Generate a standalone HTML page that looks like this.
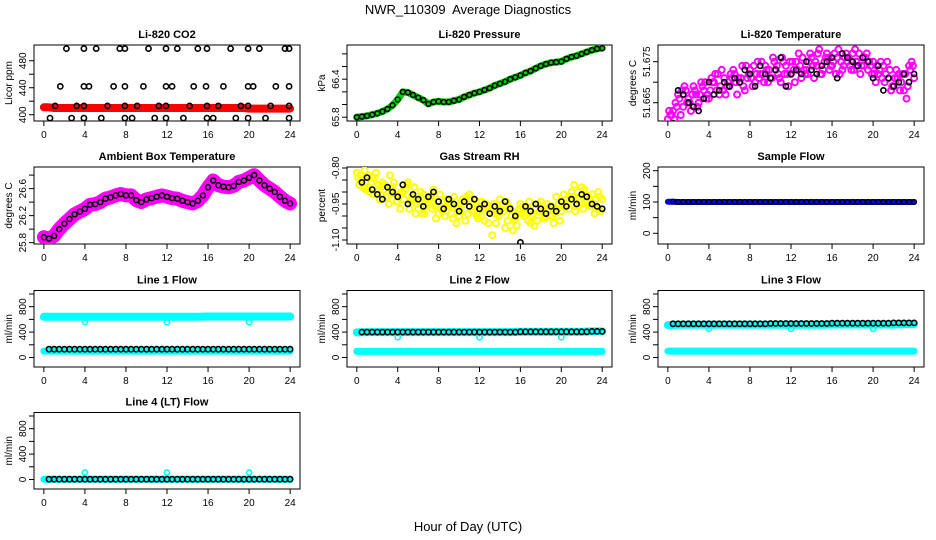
<!DOCTYPE html>
<html><head><meta charset="utf-8">
<style>
html,body{margin:0;padding:0;background:#fff;}
svg{display:block;font-family:"Liberation Sans",sans-serif;}
</style></head>
<body>
<svg id="chart" width="936" height="540" viewBox="0 0 936 540" xmlns="http://www.w3.org/2000/svg">
<rect x="0" y="0" width="936" height="540" fill="#fff"/>
<text x="468" y="14" text-anchor="middle" font-size="13" style="white-space:pre">NWR_110309  Average Diagnostics</text>
<text x="468" y="531" text-anchor="middle" font-size="13">Hour of Day (UTC)</text>
</svg>
<script>
// ---------- data ----------
const hours49 = [0,0.5,1,1.5,2,2.5,3,3.5,4,4.5,5,5.5,6,6.5,7,7.5,8,8.5,9,9.5,10,10.5,11,11.5,12,12.5,13,13.5,14,14.5,15,15.5,16,16.5,17,17.5,18,18.5,19,19.5,20,20.5,21,21.5,22,22.5,23,23.5,24];
const hoursB = [0.25,0.75,1.25,1.75,2.25,2.75,3.25,3.75,4.25,4.75,5.25,5.75,6.25,6.75,7.25,7.75,8.25,8.75,9.25,9.75,10.25,10.75,11.25,11.75,12.25,12.75,13.25,13.75,14.25,14.75,15.25,15.75,16.25,16.75,17.25,17.75,18.25,18.75,19.25,19.75,20.25,20.75,21.25,21.75,22.25,22.75,23.25,23.75];
const hoursC = [0.125,0.625,1.125,1.625,2.125,2.625,3.125,3.625,4.125,4.625,5.125,5.625,6.125,6.625,7.125,7.625,8.125,8.625,9.125,9.625,10.125,10.625,11.125,11.625,12.125,12.625,13.125,13.625,14.125,14.625,15.125,15.625,16.125,16.625,17.125,17.625,18.125,18.625,19.125,19.625,20.125,20.625,21.125,21.625,22.125,22.625,23.125,23.625];
const hoursD = [0.375,0.875,1.375,1.875,2.375,2.875,3.375,3.875,4.375,4.875,5.375,5.875,6.375,6.875,7.375,7.875,8.375,8.875,9.375,9.875,10.375,10.875,11.375,11.875,12.375,12.875,13.375,13.875,14.375,14.875,15.375,15.875,16.375,16.875,17.375,17.875,18.375,18.875,19.375,19.875,20.375,20.875,21.375,21.875,22.375,22.875,23.375,23.875];
const hoursK = hours49.slice(1);

const co2Hours = [2.2,3.9,5.1,7.4,7.9,10.2,11.9,13.0,15.0,15.9,18.2,19.9,21.0,23.5,23.9, 1.6,3.9,4.4,6.8,7.9,9.7,11.9,12.5,14.6,15.8,17.5,19.9,20.4,22.6,23.9, 1.1,3.2,3.9,6.2,7.9,9.1,11.2,11.9,14.2,15.9,17.0,19.2,19.9,22.1,23.9, 0.6,2.7,3.9,5.6,7.9,8.6,10.8,11.9,13.6,15.9,16.5,18.7,19.9,21.6,23.9];
const co2Vals = [498,498,498,498,498,498,498,498,498,498,498,498,498,498,498, 442,442,442,442,442,442,442,442,442,442,442,442,442,442,442, 413,413,413,413,413,413,413,413,413,413,413,413,413,413,413, 395,395,395,395,395,395,395,395,395,395,395,395,395,395,395];
const co2Red = [411,411,410,410,410,410,410,410,410,410,410,410,410,410,410,410,410,410,410,410,410,410,410,410,410,410,410,410,410,410,410,410,410,410,410,410,410,410,410,410,409,409,409,409,409,409,409,409,409];

const pressure = [65.80,65.81,65.82,65.84,65.86,65.89,65.93,65.99,66.08,66.20,66.19,66.15,66.11,66.07,66.01,66.04,66.05,66.04,66.04,66.06,66.08,66.12,66.15,66.18,66.20,66.23,66.26,66.30,66.33,66.36,66.40,66.43,66.46,66.50,66.53,66.57,66.61,66.64,66.66,66.67,66.68,66.72,66.75,66.77,66.80,66.83,66.86,66.88,66.89];

const tempA = [51.661,51.663,51.667,51.664,51.666,51.669,51.665,51.668,51.666,51.670,51.667,51.671,51.669,51.672,51.670,51.668,51.673,51.670,51.672,51.674,51.671,51.673,51.670,51.674,51.672,51.675,51.671,51.673,51.676,51.674,51.672,51.677,51.674,51.676,51.673,51.675,51.677,51.674,51.676,51.673,51.675,51.672,51.674,51.671,51.669,51.672,51.668,51.674,51.671];
const tempB = [51.662,51.665,51.662,51.668,51.663,51.667,51.670,51.666,51.671,51.668,51.673,51.669,51.671,51.667,51.674,51.671,51.669,51.675,51.672,51.670,51.676,51.672,51.675,51.669,51.673,51.677,51.673,51.675,51.671,51.678,51.675,51.673,51.677,51.672,51.676,51.674,51.678,51.672,51.676,51.674,51.670,51.675,51.672,51.668,51.673,51.670,51.666,51.675];
const tempC = [51.663,51.661,51.666,51.669,51.665,51.668,51.667,51.670,51.668,51.672,51.669,51.667,51.672,51.670,51.671,51.674,51.671,51.672,51.675,51.673,51.671,51.674,51.676,51.672,51.675,51.673,51.676,51.672,51.674,51.677,51.673,51.676,51.675,51.678,51.674,51.676,51.673,51.677,51.674,51.675,51.672,51.673,51.670,51.673,51.671,51.668,51.672,51.673];
const tempD = [51.662,51.664,51.668,51.665,51.667,51.664,51.669,51.667,51.670,51.672,51.668,51.670,51.673,51.671,51.669,51.672,51.674,51.671,51.670,51.673,51.675,51.671,51.672,51.675,51.670,51.674,51.672,51.677,51.675,51.672,51.676,51.674,51.672,51.675,51.677,51.673,51.675,51.674,51.677,51.672,51.674,51.671,51.675,51.669,51.671,51.672,51.669,51.674];
const tempK = [51.660,51.668,51.667,51.665,51.664,51.663,51.666,51.670,51.667,51.668,51.670,51.669,51.671,51.670,51.673,51.672,51.669,51.674,51.672,51.671,51.673,51.676,51.669,51.672,51.673,51.672,51.675,51.673,51.672,51.674,51.675,51.676,51.671,51.677,51.676,51.675,51.674,51.676,51.675,51.671,51.674,51.668,51.671,51.669,51.670,51.672,51.670,51.672];

const ambient = [25.88,25.86,25.90,26.00,26.08,26.15,26.22,26.26,26.30,26.36,26.37,26.40,26.45,26.47,26.50,26.52,26.50,26.50,26.43,26.40,26.44,26.46,26.48,26.50,26.48,26.46,26.45,26.42,26.40,26.38,26.42,26.50,26.62,26.72,26.65,26.63,26.62,26.64,26.70,26.72,26.76,26.80,26.72,26.65,26.60,26.55,26.48,26.42,26.38];

const rhA = [-0.82,-0.85,-0.88,-0.84,-0.90,-0.86,-0.92,-0.88,-0.94,-0.90,-0.86,-0.93,-0.97,-0.91,-0.95,-0.89,-0.99,-0.94,-0.96,-0.92,-1.00,-0.95,-0.91,-0.98,-0.94,-1.02,-0.96,-0.99,-0.93,-1.05,-0.97,-1.01,-0.95,-0.99,-1.03,-0.97,-0.94,-1.00,-0.96,-0.92,-0.98,-0.93,-0.90,-0.96,-0.88,-0.94,-0.91,-0.97,-0.93];
const rhB = [-0.87,-0.81,-0.90,-0.84,-0.93,-0.87,-0.83,-0.91,-0.97,-0.89,-0.94,-0.99,-0.90,-0.96,-0.92,-1.01,-0.97,-0.93,-0.99,-1.03,-0.95,-0.92,-0.98,-1.00,-0.94,-0.97,-1.08,-0.99,-0.95,-1.02,-1.06,-0.98,-0.96,-1.02,-0.99,-0.95,-1.01,-0.97,-1.03,-0.95,-0.91,-0.97,-0.87,-0.93,-0.89,-0.95,-0.99,-0.92];
const rhC = [-0.84,-0.88,-0.83,-0.91,-0.87,-0.89,-0.95,-0.86,-0.91,-0.93,-0.97,-0.88,-0.94,-0.99,-0.93,-0.96,-0.91,-1.00,-0.96,-0.94,-0.98,-1.02,-0.93,-0.96,-1.00,-0.95,-0.98,-1.03,-0.97,-0.94,-1.00,-1.04,-0.99,-0.96,-1.00,-1.02,-0.98,-0.95,-1.00,-0.97,-0.94,-0.95,-0.92,-0.90,-0.97,-0.92,-0.95,-0.90];
const rhD = [-0.83,-0.89,-0.86,-0.82,-0.88,-0.92,-0.89,-0.94,-0.90,-0.87,-0.92,-0.95,-0.99,-0.93,-0.97,-0.94,-0.98,-0.95,-1.01,-0.97,-0.93,-0.99,-0.95,-1.01,-0.97,-1.03,-0.95,-1.00,-0.98,-0.96,-1.02,-0.97,-1.00,-0.94,-1.04,-0.98,-1.01,-0.96,-0.99,-1.02,-0.96,-0.92,-0.98,-0.94,-0.91,-0.96,-0.93,-0.98];
const rhK = [-0.86,-0.84,-0.89,-0.91,-0.93,-0.88,-0.90,-0.92,-0.87,-0.95,-0.91,-0.93,-0.96,-0.92,-0.90,-0.94,-0.97,-0.93,-0.95,-0.98,-0.94,-0.96,-0.93,-0.97,-0.95,-0.99,-0.96,-0.98,-0.94,-0.97,-1.00,-1.11,-0.96,-0.98,-0.95,-0.97,-0.99,-0.96,-0.98,-0.94,-0.96,-0.93,-0.95,-0.91,-0.92,-0.95,-0.96,-0.97];

const sampleFlow = [101,101,100,100,100,100,100,100,100,100,100,100,100,100,100,100,100,100,100,100,100,100,100,100,100,100,100,100,100,100,100,100,100,100,100,100,100,100,100,100,100,100,100,100,100,100,100,100,100];

const flowHours = [0,1,2,3,4,5,6,7,8,9,10,11,12,13,14,15,16,17,18,19,20,21,22,23,24];
const spikeHours = [4,12,20];
const line1Hi = [640,640,640,640,640,640,640,640,640,640,640,640,640,640,640,640,645,645,645,645,645,645,645,645,645];
const line1Lo = [100,100,100,100,100,100,100,100,100,100,100,100,100,100,100,100,100,100,100,100,100,100,100,100,100];
const line1K  = [130,130,130,130,130,130,130,130,130,130,130,130,130,130,130,130,130,130,130,130,130,130,130,130,130];
const line1Spike = [560,555,555];
const line2Hi = [395,400,400,400,400,400,400,400,400,400,400,400,400,400,400,400,405,405,405,405,405,405,405,410,410];
const line2Lo = [95,95,95,95,95,95,95,95,95,95,95,95,95,95,95,95,95,95,95,95,95,95,95,95,95];
const line2K  = [400,400,400,400,400,400,400,400,400,400,400,400,400,400,400,400,405,405,405,405,405,405,405,410,410];
const line2Spike = [320,320,320];
const line3Hi = [510,515,515,515,515,515,515,515,515,515,515,515,515,515,515,515,520,520,520,520,520,520,520,525,525];
const line3Lo = [100,100,100,100,100,100,100,100,100,100,100,100,100,100,100,100,100,100,100,100,100,100,100,100,100];
const line3K  = [530,530,530,530,530,530,530,530,530,530,535,535,535,535,535,535,540,540,540,540,540,540,545,545,545];
const line3Spike = [450,450,450];
const line4C  = [5,5,5,5,5,5,5,5,5,5,5,5,5,5,5,5,5,5,5,5,5,5,5,5,5];
const line4K  = [5,5,5,5,5,5,5,5,5,5,5,5,5,5,5,5,5,5,5,5,5,5,5,5,5];
const line4Spike = [110,110,110];

const xTickVals = [0,4,8,12,16,20,24];

// ---------- layout ----------
const svg = document.getElementById('chart');
const NS = 'http://www.w3.org/2000/svg';
const colX = [[34,300],[347,612],[658,924]];
const rowY = [[45,121],[167,244],[290.5,367],[412.5,489]];
function mk(tag, attrs, parent){const e=document.createElementNS(NS,tag);for(const k in attrs)e.setAttribute(k,attrs[k]);(parent||svg).appendChild(e);return e;}

function panel(name, col, row, title, ylab, ymin, ymax, ticks, labels){
  const [x0,x1]=colX[col],[y0,y1]=rowY[row];
  const g=mk('g',{});
  
  
  const xs=h=>x0+(x1-x0)*(h+0.96)/25.92;
  const ys=v=>y1-(y1-y0)*(v-ymin)/(ymax-ymin);
  const t=mk('text',{x:(x0+x1)/2,y:y0-7,'text-anchor':'middle','font-size':11,'font-weight':'bold'},g);
  t.textContent=title;
  
  
  const yl=mk('text',{x:0,y:0,'text-anchor':'middle','font-size':10,transform:`translate(${x0-22},${(y0+y1)/2}) rotate(-90)`},g);
  yl.textContent=ylab;
  
  
  const xa=mk('g',{},g);
  
  
  mk('line',{x1:xs(0),x2:xs(24),y1:y1,y2:y1,stroke:'#000'},xa);
  xTickVals.forEach(v=>{
    mk('line',{x1:xs(v),x2:xs(v),y1:y1,y2:y1+5,stroke:'#000'},xa);
    const tl=mk('text',{x:xs(v),y:y1+17,'text-anchor':'middle','font-size':10},xa);
    tl.textContent=v;
  });
  const ya=mk('g',{},g);
  
  
  mk('line',{x1:x0,x2:x0,y1:ys(ticks[0]),y2:ys(ticks[ticks.length-1]),stroke:'#000'},ya);
  ticks.forEach(v=>mk('line',{x1:x0-5,x2:x0,y1:ys(v),y2:ys(v),stroke:'#000'},ya));
  labels.forEach(l=>{
    const tl=mk('text',{x:0,y:0,'text-anchor':'middle','font-size':10,transform:`translate(${x0-8},${ys(l[0])}) rotate(-90)`},ya);
    tl.textContent=l[1];
  });
  mk('rect',{x:x0,y:y0,width:x1-x0,height:y1-y0,fill:'none',stroke:'#000'},g);
  const clip='clip-'+name;
  const cp=mk('clipPath',{id:clip},g);mk('rect',{x:x0,y:y0,width:x1-x0,height:y1-y0},cp);
  const plot=mk('g',{'clip-path':`url(#${clip})`},g);
  return {xs,ys,plot,name};
}
function band(p,hs,vs,color,w,nm){
  const pts=hs.map((h,i)=>p.xs(h).toFixed(1)+','+p.ys(vs[i]).toFixed(1)).join(' ');
  const pl=mk('polyline',{points:pts,fill:'none',stroke:color,'stroke-width':w,'stroke-linecap':'round','stroke-linejoin':'round'},p.plot);
  
  
}
function dots(p,hs,vs,color,nm,r,sw){
  const g=mk('g',{},p.plot);
  
  
  hs.forEach((h,i)=>{
    const c=mk('circle',{cx:p.xs(h).toFixed(1),cy:p.ys(vs[i]).toFixed(1),r:r||2.6,fill:'none',stroke:color,'stroke-width':sw||1.6},g);
    
    
  });
}
function rng(a,b,s){const o=[];for(let v=a;v<=b+1e-9;v+=s)o.push(+v.toFixed(4));return o;}
const flowTicks=rng(0,1000,200), flowLabels=[[0,'0'],[400,'400'],[800,'800']];

// CO2
let p=panel('co2',0,0,'Li-820 CO2','Licor ppm',390.7,503.3,rng(400,480,20),[[400,'400'],[440,'440'],[480,'480']]);
band(p,hours49,co2Red,'#ff0000',8,'red-series');
dots(p,co2Hours,co2Vals,'#000','black-series');
// Pressure
p=panel('pressure',1,0,'Li-820 Pressure','kPa',65.74,66.94,rng(65.8,66.8,0.2),[[65.8,'65.8'],[66.4,'66.4']]);
band(p,hours49,pressure,'#00cc00',7,'green-series');
dots(p,hours49,pressure,'#000','black-series',2.4,1.5);
// Temperature
p=panel('temperature',2,0,'Li-820 Temperature','degrees C',51.66054,51.67907,[51.665,51.67,51.675],[[51.665,'51.665'],[51.675,'51.675']]);
dots(p,hours49,tempA,'#ff00ff','magenta-series-a',3,2);
dots(p,hoursB,tempB,'#ff00ff','magenta-series-b',3,2);
dots(p,hoursC,tempC,'#ff00ff','magenta-series-c',3,2);
dots(p,hoursD,tempD,'#ff00ff','magenta-series-d',3,2);
dots(p,hoursK,tempK,'#000','black-series');
// Ambient
p=panel('ambient',0,1,'Ambient Box Temperature','degrees C',25.78,26.92,rng(25.8,26.8,0.2),[[25.8,'25.8'],[26.2,'26.2'],[26.6,'26.6']]);
band(p,hours49,ambient,'#ff00ff',14,'magenta-series');
dots(p,hours49,ambient,'#000','black-series',2.5,1.5);
// RH
p=panel('rh',1,1,'Gas Stream RH','percent',-1.1167,-0.7958,rng(-1.1,-0.8,0.05),[[-0.8,'-0.80'],[-0.95,'-0.95'],[-1.1,'-1.10']]);
dots(p,hours49,rhA,'#ffff00','yellow-series-a',3,2);
dots(p,hoursB,rhB,'#ffff00','yellow-series-b',3,2);
dots(p,hoursC,rhC,'#ffff00','yellow-series-c',3,2);
dots(p,hoursD,rhD,'#ffff00','yellow-series-d',3,2);
dots(p,hoursK,rhK,'#000','black-series');
// Sample flow
p=panel('sample-flow',2,1,'Sample Flow','ml/min',-34.2,211.8,rng(0,200,50),[[0,'0'],[100,'100'],[200,'200']]);
band(p,hours49,sampleFlow,'#0000ff',6,'blue-series');
dots(p,hoursK,sampleFlow.slice(1),'#000','black-series',2.4,1.3);
// Line 1
p=panel('line1-flow',0,2,'Line 1 Flow','ml/min',-150,1055,flowTicks,flowLabels);
band(p,flowHours,line1Hi,'#00ffff',8,'cyan-high-series');
band(p,flowHours,line1Lo,'#00ffff',7,'cyan-low-series');
dots(p,spikeHours,line1Spike,'#00ffff','cyan-spikes');
dots(p,hoursK,hoursK.map(h=>line1K[Math.floor(h)]),'#000','black-series');
// Line 2
p=panel('line2-flow',1,2,'Line 2 Flow','ml/min',-150,1055,flowTicks,flowLabels);
band(p,flowHours,line2Hi,'#00ffff',8,'cyan-high-series');
band(p,flowHours,line2Lo,'#00ffff',7,'cyan-low-series');
dots(p,spikeHours,line2Spike,'#00ffff','cyan-spikes');
dots(p,hoursK,hoursK.map(h=>line2K[Math.floor(h)]),'#000','black-series');
// Line 3
p=panel('line3-flow',2,2,'Line 3 Flow','ml/min',-150,1055,flowTicks,flowLabels);
band(p,flowHours,line3Hi,'#00ffff',8,'cyan-high-series');
band(p,flowHours,line3Lo,'#00ffff',7,'cyan-low-series');
dots(p,spikeHours,line3Spike,'#00ffff','cyan-spikes');
dots(p,hoursK,hoursK.map(h=>line3K[Math.floor(h)]),'#000','black-series');
// Line 4
p=panel('line4-flow',0,3,'Line 4 (LT) Flow','ml/min',-150,1055,flowTicks,flowLabels);
band(p,flowHours,line4C,'#00ffff',7,'cyan-series');
dots(p,spikeHours,line4Spike,'#00ffff','cyan-spikes');
dots(p,hoursK,hoursK.map(h=>line4K[Math.floor(h)]),'#000','black-series');
</script>
</body></html>
